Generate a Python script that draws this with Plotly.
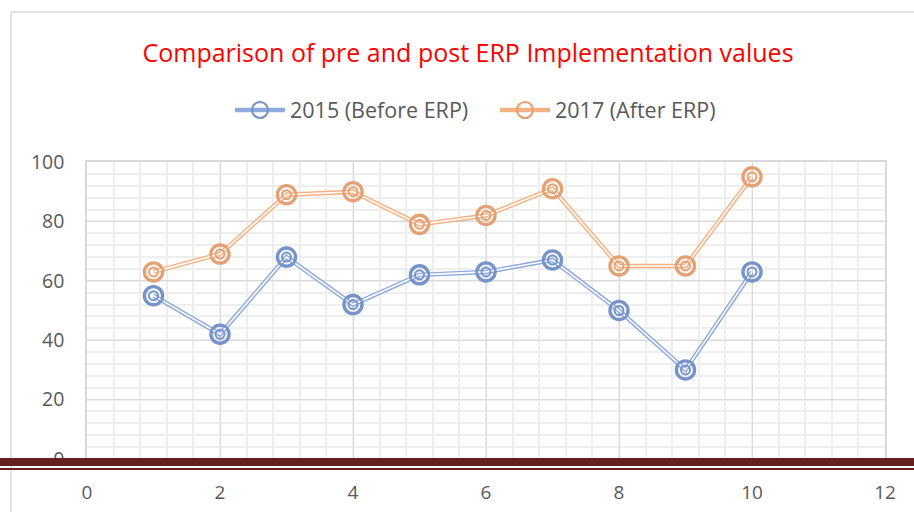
import plotly.graph_objects as go

x_vals = [1, 2, 3, 4, 5, 6, 7, 8, 9, 10]
before_2015 = [55, 42, 68, 52, 62, 63, 67, 50, 30, 63]
after_2017 = [63, 69, 89, 90, 79, 82, 91, 65, 65, 95]
series_names = ["2015 (Before ERP)", "2017 (After ERP)"]
x_ticks = [0, 2, 4, 6, 8, 10, 12]
y_ticks = [0, 20, 40, 60, 80, 100]

line_cols = ["#8FAADC", "#F4B183"]
ring_cols = ["#7693CA", "#E4A173"]

W, H = 914, 512
L, R, T, B = 87, 885, 162, 459
pw, ph = R - L, B - T

def px(x):
    return (x - L) / pw

def py(y):
    return (B - y) / ph

fig = go.Figure()
for name, ys, lc, rc in zip(series_names, [before_2015, after_2017], line_cols, ring_cols):
    fig.add_trace(go.Scatter(x=x_vals, y=ys, mode="lines+markers", name=name,
                             legendgroup=name,
                             line=dict(color=lc, width=4.5),
                             marker=dict(symbol="circle-open", size=17, color=rc,
                                         line=dict(width=2.2, color=rc))))
    fig.add_trace(go.Scatter(x=x_vals, y=ys, mode="lines", showlegend=False,
                             legendgroup=name, hoverinfo="skip",
                             line=dict(color="white", width=1.6)))
    fig.add_trace(go.Scatter(x=x_vals, y=ys, mode="markers", showlegend=False,
                             legendgroup=name, hoverinfo="skip",
                             marker=dict(symbol="circle-open", size=19, color=rc,
                                         line=dict(width=2.5, color=rc))))
    fig.add_trace(go.Scatter(x=x_vals, y=ys, mode="markers", showlegend=False,
                             legendgroup=name, hoverinfo="skip",
                             marker=dict(symbol="circle-open", size=9, color=rc,
                                         line=dict(width=2, color=rc))))

font_fam = "Open Sans"
fig.update_layout(
    width=W, height=H,
    margin=dict(l=L, r=W - R, t=T, b=H - B, autoexpand=False),
    paper_bgcolor="white", plot_bgcolor="white",
    title=dict(text="Comparison of pre and post ERP Implementation values",
               x=468 / W, xref="container", xanchor="center",
               y=1 - 53 / H, yref="container", yanchor="middle",
               font=dict(family=font_fam, size=25, color="#FF0000")),
    legend=dict(orientation="h", x=px(230), xanchor="left", y=py(110), yanchor="middle",
                font=dict(family=font_fam, size=21.5, color="#595959"),
                entrywidth=200, itemwidth=50, bgcolor="rgba(0,0,0,0)"),
    showlegend=True,
    xaxis=dict(range=[0, 12], tickvals=x_ticks, ticktext=[str(v) for v in x_ticks],
               showgrid=True, gridcolor="#D9D9D9", gridwidth=1.2,
               minor=dict(dtick=0.4, showgrid=True, gridcolor="#EEEEEE", gridwidth=1.5),
               showline=True, linecolor="#D9D9D9", linewidth=1.5, mirror=True,
               zeroline=False, ticks="", ticklabelstandoff=15,
               tickfont=dict(family=font_fam, size=19, color="#595959")),
    yaxis=dict(range=[0, 100], tickvals=y_ticks, ticktext=[str(v) for v in y_ticks],
               showgrid=True, gridcolor="#D9D9D9", gridwidth=1.2,
               minor=dict(dtick=4, showgrid=True, gridcolor="#EEEEEE", gridwidth=1.5),
               showline=True, linecolor="#D9D9D9", linewidth=1.5, mirror=True,
               zeroline=False, ticks="", ticklabelstandoff=17,
               tickfont=dict(family=font_fam, size=19.5, color="#595959")),
)

shapes = [
    # chart area border (top and left)
    dict(type="line", xref="paper", yref="paper", x0=px(11), x1=px(W + 5), y0=py(12), y1=py(12),
         line=dict(color="#D9D9D9", width=1.5), layer="below"),
    dict(type="line", xref="paper", yref="paper", x0=px(11), x1=px(11), y0=py(12), y1=py(H + 5),
         line=dict(color="#D9D9D9", width=1.5), layer="below"),
    # dark red document rule
    dict(type="rect", xref="paper", yref="paper", x0=px(-5), x1=px(W + 5), y0=py(466), y1=py(458),
         line=dict(width=0), fillcolor="#62201F", layer="above"),
    dict(type="line", xref="paper", yref="paper", x0=px(-5), x1=px(W + 5), y0=py(469), y1=py(469),
         line=dict(color="#62201F", width=2), layer="above"),
]
fig.update_layout(shapes=shapes)

fig.write_html("out.html", config={"displayModeBar": False},
               post_script="document.body.style.margin='0';document.body.style.overflow='hidden';")
